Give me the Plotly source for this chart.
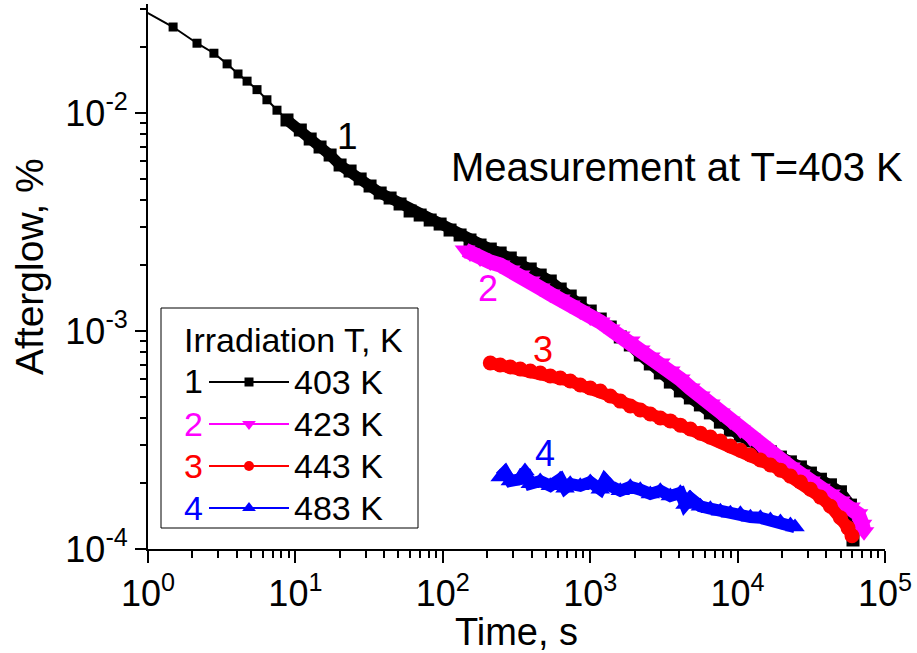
import plotly.graph_objects as go

# ---------------- data ----------------
time_403 = [0.85, 1.48, 2.15, 2.80, 3.44, 4.08, 4.70, 5.49, 6.41, 7.50, 8.77,
            10.8, 12.6, 14.7, 17.2, 20.1, 23.5, 27.5, 32.1, 37.6, 43.9, 51.3, 60.0,
            70.2, 82.1, 95.9, 112, 131, 153, 179, 210, 245, 287, 335, 392, 458, 536,
            626, 732, 856, 1001, 1170, 1368, 1600, 1871, 2187, 2557, 2990, 3496,
            4088, 4780, 5589, 6534, 7640, 8933, 10445, 12212, 14279, 16695, 19520,
            22823, 26685, 31201, 36481, 42654, 49872, 58311, 60650]
glow_403 = [0.0305, 0.0248, 0.0209, 0.0188, 0.0168, 0.0151, 0.0140, 0.0128, 0.0115, 0.0103, 0.00929,
            0.008356, 0.007598, 0.006982, 0.006416, 0.005774, 0.005418, 0.004981, 0.004625,
            0.004295, 0.004074, 0.003825, 0.003552, 0.003404, 0.003229, 0.003095, 0.002905,
            0.002757, 0.002615, 0.002480, 0.002377, 0.002279, 0.002162, 0.002050, 0.001925,
            0.001806, 0.001696, 0.001558, 0.001447, 0.001344, 0.001235, 0.001135, 0.001043,
            0.000939, 0.000863, 0.000776, 0.000706, 0.000642, 0.000583, 0.000531, 0.000493,
            0.000458, 0.000421, 0.000382, 0.000351, 0.000330, 0.000313, 0.000294, 0.000279,
            0.000264, 0.000251, 0.000238, 0.000223, 0.000209, 0.000197, 0.000183, 0.000159,
            0.000110]

time_423 = [141.5, 153, 179, 210, 245, 287, 335, 392, 458, 536, 626, 732, 856, 1001,
            1170, 1368, 1600, 1871, 2187, 2557, 2990, 3496, 4088, 4780, 5589, 6534,
            7640, 8933, 10445, 12212, 14279, 16695, 19520, 22823, 26685, 31201, 36481,
            42654, 49872, 58311, 65580, 69830, 72050]
glow_423 = [0.002353, 0.002279, 0.002162, 0.002072, 0.002008, 0.001905, 0.001806, 0.001696,
            0.001575, 0.001478, 0.001402, 0.001316, 0.001235, 0.001159, 0.001100, 0.001021,
            0.000949, 0.000900, 0.000818, 0.000760, 0.000713, 0.000655, 0.000602, 0.000548,
            0.000503, 0.000462, 0.000421, 0.000387, 0.000351, 0.000323, 0.000297, 0.000270,
            0.000253, 0.000238, 0.000221, 0.000205, 0.000190, 0.000179, 0.000166, 0.000156,
            0.000145, 0.000130, 0.000120]

time_443 = [210, 245, 287, 335, 392, 458, 536, 626, 732, 856, 1001, 1170, 1368, 1600,
            1871, 2187, 2557, 2990, 3496, 4088, 4780, 5589, 6534, 7640, 8933, 10445,
            12212, 14279, 16695, 19520, 22823, 26685, 31201, 36481, 42654, 49872,
            56100, 59700]
glow_443 = [0.000713, 0.000698, 0.000684, 0.000669, 0.000655, 0.000642, 0.000622, 0.000609,
            0.000590, 0.000565, 0.000548, 0.000531, 0.000503, 0.000477, 0.000453, 0.000434,
            0.000416, 0.000399, 0.000387, 0.000370, 0.000355, 0.000340, 0.000326, 0.000313,
            0.000297, 0.000284, 0.000270, 0.000256, 0.000243, 0.000230, 0.000216, 0.000203,
            0.000188, 0.000173, 0.000157, 0.000139, 0.000125, 0.000115]

time_483 = [245, 264, 287, 335, 361, 392, 458, 536, 626, 675, 732, 856, 1001, 1170,
            1260, 1368, 1600, 1871, 2187, 2557, 2990, 3496, 4088, 4396, 4780, 5589,
            6534, 7640, 8933, 10445, 12212, 14279, 16695, 19520, 22823, 24514]
glow_483 = [0.000214, 0.000225, 0.000205, 0.000209, 0.000228, 0.000199, 0.000205, 0.000195,
            0.000209, 0.000190, 0.000199, 0.000195, 0.000203, 0.000188, 0.000207, 0.000195,
            0.000185, 0.000193, 0.000187, 0.000179, 0.000185, 0.000175, 0.000181, 0.000160,
            0.000171, 0.000157, 0.000153, 0.000149, 0.000146, 0.000145, 0.000140, 0.000139,
            0.000136, 0.000133, 0.000129, 0.000126]

series_names = ["403 K", "423 K", "443 K", "483 K"]
series_numbers = ["1", "2", "3", "4"]
series_colors = ["#000000", "#FF00FF", "#FF0000", "#0000FF"]
series_symbols = ["square", "triangle-down", "circle", "triangle-up"]
data_marker_sizes = [13, 18, 15, 17]
band_widths = [11, 15, 12, 12]        # dense, overlapping samples drawn as a ribbon
legend_marker_sizes = [9, 12, 10, 12]
sparse_count_403 = 11                 # first, sparsely sampled points of series 1

x_tick_vals = [1, 10, 100, 1000, 10000, 100000]
x_tick_text = ["10<sup>0</sup>", "10<sup>1</sup>", "10<sup>2</sup>",
               "10<sup>3</sup>", "10<sup>4</sup>", "10<sup>5</sup>"]
y_tick_vals = [1e-4, 1e-3, 1e-2]
y_tick_text = ["10<sup>-4</sup>", "10<sup>-3</sup>", "10<sup>-2</sup>"]

FONT = "Liberation Sans, Arial, sans-serif"

# ---------------- figure ----------------
fig = go.Figure()

# series 1: sparse early part with a thin line
fig.add_trace(go.Scatter(
    x=time_403[:sparse_count_403 + 1], y=glow_403[:sparse_count_403 + 1],
    mode="lines+markers", legendgroup=series_names[0], showlegend=False,
    line=dict(color=series_colors[0], width=2),
    marker=dict(symbol="square", size=9, color=series_colors[0], line=dict(width=0)),
))

times = [time_403[sparse_count_403 - 1:], time_423, time_443, time_483]
glows = [glow_403[sparse_count_403 - 1:], glow_423, glow_443, glow_483]
for t, g, name, col, sym, sz, bw in zip(times, glows, series_names, series_colors,
                                        series_symbols, data_marker_sizes, band_widths):
    fig.add_trace(go.Scatter(
        x=t, y=g, name=name, mode="lines+markers", legendgroup=name, showlegend=False,
        line=dict(color=col, width=bw),
        marker=dict(symbol=sym, size=sz, color=col, line=dict(width=0)),
    ))
# legend entries (no data, legend sample only)
for name, col, sym, sz in zip(series_names, series_colors, series_symbols, legend_marker_sizes):
    fig.add_trace(go.Scatter(
        x=[None], y=[None], mode="lines+markers", legendgroup=name, showlegend=True,
        name="<span style='font-size:34px'>%s</span>" % name,
        line=dict(color=col, width=2),
        marker=dict(symbol=sym, size=sz, color=col, line=dict(width=0)),
    ))

minor_x = [m * 10 ** d for d in range(0, 5) for m in range(2, 10)]
minor_y = [m * 10 ** d for d in range(-4, -1) for m in range(2, 10)]

fig.update_xaxes(
    type="log", range=[0, 5],
    tickmode="array", tickvals=x_tick_vals, ticktext=x_tick_text,
    ticks="outside", ticklen=12, tickwidth=2, tickcolor="black",
    minor=dict(tickvals=minor_x, ticks="outside", ticklen=7, tickwidth=1.5,
               tickcolor="black", showgrid=False),
    showline=True, linecolor="black", linewidth=2, mirror=False,
    showgrid=False, zeroline=False,
    tickfont=dict(family=FONT, size=36, color="black"),
    title=dict(text="Time, s", font=dict(family=FONT, size=38, color="black"), standoff=2),
)
fig.update_yaxes(
    type="log", range=[-4, -1.5],
    tickmode="array", tickvals=y_tick_vals, ticktext=y_tick_text,
    ticks="outside", ticklen=11, tickwidth=2, tickcolor="black",
    minor=dict(tickvals=minor_y, ticks="outside", ticklen=6, tickwidth=1.5,
               tickcolor="black", showgrid=False),
    showline=True, linecolor="black", linewidth=2, mirror=False,
    showgrid=False, zeroline=False,
    tickfont=dict(family=FONT, size=36, color="black"),
)


def px_x(px):
    return (px - 148) / 737


def px_y(py):
    return (549 - py) / 545


annotations = [
    dict(text="Afterglow, %", x=px_x(29), y=px_y(267), xref="paper", yref="paper",
         xanchor="center", yanchor="middle", textangle=-90, showarrow=False,
         font=dict(family=FONT, size=39, color="black")),
    dict(text="Measurement at T=403 K", x=1.027, y=px_y(167), xref="paper", yref="paper",
         xanchor="right", yanchor="middle", showarrow=False,
         font=dict(family=FONT, size=40, color="black")),
    dict(text="1", x=px_x(347), y=px_y(137), xref="paper", yref="paper",
         xanchor="center", yanchor="middle",
         showarrow=False, font=dict(family=FONT, size=37, color=series_colors[0])),
    dict(text="2", x=px_x(488), y=px_y(288), xref="paper", yref="paper",
         xanchor="center", yanchor="middle",
         showarrow=False, font=dict(family=FONT, size=36, color=series_colors[1])),
    dict(text="3", x=px_x(543), y=px_y(350), xref="paper", yref="paper",
         xanchor="center", yanchor="middle",
         showarrow=False, font=dict(family=FONT, size=36, color=series_colors[2])),
    dict(text="4", x=px_x(545), y=px_y(454), xref="paper", yref="paper",
         xanchor="center", yanchor="middle",
         showarrow=False, font=dict(family=FONT, size=36, color=series_colors[3])),
    dict(text="Irradiation T, K", x=px_x(182), y=px_y(340),
         xref="paper", yref="paper", xanchor="left", yanchor="middle", showarrow=False,
         font=dict(family=FONT, size=34, color="black")),
]
legend_rows = [381, 424, 466, 508]
for num, col, row in zip(series_numbers, series_colors, legend_rows):
    annotations.append(dict(text=num, x=px_x(182), y=px_y(row),
                            xref="paper", yref="paper", xanchor="left", yanchor="middle",
                            showarrow=False, font=dict(family=FONT, size=34, color=col)))

fig.update_layout(
    width=917, height=653,
    margin=dict(l=148, r=32, t=4, b=104, pad=0),
    paper_bgcolor="white", plot_bgcolor="white",
    font=dict(family=FONT, color="black"),
    showlegend=True,
    legend=dict(x=px_x(204), y=px_y(356), xanchor="left", yanchor="top",
                bgcolor="rgba(0,0,0,0)", borderwidth=0, itemwidth=80,
                font=dict(family=FONT, size=30, color="black"),
                tracegroupgap=0),
    annotations=annotations,
    shapes=[dict(type="rect", xref="paper", yref="paper",
                 x0=px_x(161), x1=px_x(418), y0=px_y(528), y1=px_y(308),
                 line=dict(color="black", width=1), fillcolor="rgba(0,0,0,0)")],
)

fig.write_html("out.html")
